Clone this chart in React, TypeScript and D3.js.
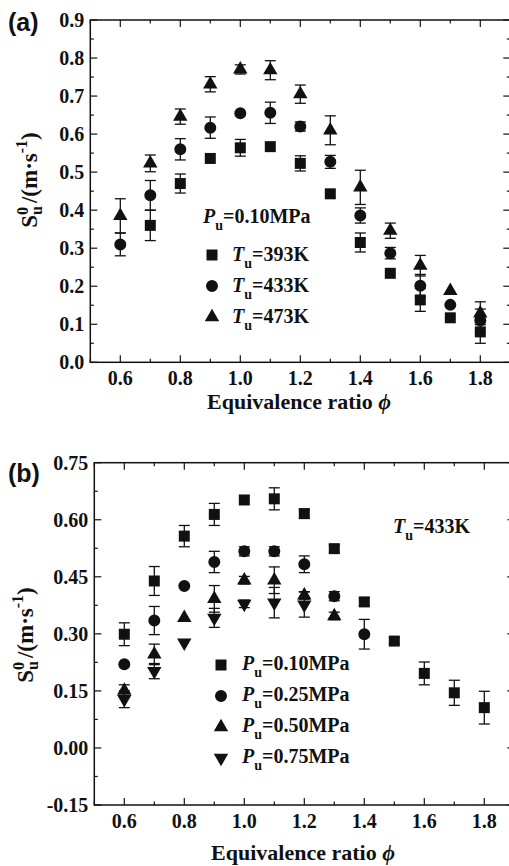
import React from "react";
import * as d3 from "d3";

// ---------- data ----------
const phi = [0.6, 0.7, 0.8, 0.9, 1.0, 1.1, 1.2, 1.3, 1.4, 1.5, 1.6, 1.7, 1.8];

// panel (a): Pu = 0.10 MPa
const aT393 = [null, 0.36, 0.47, 0.536, 0.564, 0.567, 0.523, 0.443, 0.315, 0.234, 0.164, 0.117, 0.08];
const aT393Err = [0, 0.04, 0.025, 0, 0.022, 0, 0.02, 0, 0.025, 0, 0.03, 0, 0.03];
const aT433 = [0.31, 0.439, 0.56, 0.617, 0.655, 0.656, 0.62, 0.527, 0.386, 0.287, 0.201, 0.151, 0.11];
const aT433Err = [0.03, 0.039, 0.028, 0.028, 0, 0.028, 0.012, 0.017, 0.02, 0.015, 0.03, 0, 0.03];
const aT473 = [0.385, 0.523, 0.646, 0.731, 0.77, 0.768, 0.705, 0.61, 0.46, 0.346, 0.254, 0.188, 0.129];
const aT473Err = [0.045, 0.022, 0.02, 0.02, 0.012, 0.025, 0.024, 0.038, 0.045, 0.02, 0.027, 0, 0.03];

// panel (b): Tu = 433 K
const bP010 = [0.299, 0.439, 0.557, 0.614, 0.652, 0.655, 0.616, 0.524, 0.384, 0.281, 0.196, 0.145, 0.106];
const bP010Err = [0.03, 0.038, 0.028, 0.029, 0, 0.029, 0.012, 0.01, 0.01, 0.008, 0.03, 0.033, 0.043];
const bP025 = [0.22, 0.335, 0.426, 0.489, 0.517, 0.517, 0.483, 0.399, 0.299];
const bP025Err = [0, 0.037, 0, 0.028, 0.012, 0.012, 0.022, 0.012, 0.039];
const bP050 = [0.151, 0.246, 0.342, 0.392, 0.441, 0.441, 0.401, 0.347];
const bP050Err = [0.015, 0.027, 0, 0.035, 0.01, 0.035, 0.01, 0.01];
const bP075 = [0.128, 0.202, 0.277, 0.342, 0.379, 0.382, 0.377];
const bP075Err = [0.022, 0.02, 0, 0.025, 0.01, 0.04, 0.033];

const xTickLabels = ["0.6", "0.8", "1.0", "1.2", "1.4", "1.6", "1.8"];
const yTickLabelsA = ["0.0", "0.1", "0.2", "0.3", "0.4", "0.5", "0.6", "0.7", "0.8", "0.9"];
const yTickLabelsB = ["-0.15", "0.00", "0.15", "0.30", "0.45", "0.60", "0.75"];

const legendA = ["393K", "433K", "473K"];
const legendB = ["0.10MPa", "0.25MPa", "0.50MPa", "0.75MPa"];

// ---------- styling ----------
const SERIF = "Liberation Serif, Times New Roman, DejaVu Serif, serif";
const SANS = "Liberation Sans, Arial, sans-serif";
const INK = "#111";

type Shape = "square" | "circle" | "triangle" | "down";

function symbolPath(shape: Shape): string {
  const sym =
    shape === "square"
      ? d3.symbol(d3.symbolSquare, 121)
      : shape === "circle"
      ? d3.symbol(d3.symbolCircle, 113)
      : d3.symbol(d3.symbolTriangle, 90);
  return sym() as string;
}

function Marker({ shape, x, y }: { shape: Shape; x: number; y: number }) {
  const rot = shape === "down" ? " rotate(180)" : "";
  return <path d={symbolPath(shape)} transform={`translate(${x},${y})${rot}`} fill={INK} />;
}

type Series = { values: (number | null)[]; errs: number[]; shape: Shape };

const serifStyle = { fontFamily: SERIF, fontWeight: 700 } as const;

function Panel({
  xr,
  yDomain,
  yr,
  yLabels,
  yMinorStep,
  series,
}: {
  xr: [number, number];
  yDomain: [number, number];
  yr: [number, number];
  yLabels: string[];
  yMinorStep: number;
  series: Series[];
}) {
  const x = d3.scaleLinear().domain([0.5, 1.9]).range(xr);
  const y = d3.scaleLinear().domain(yDomain).range(yr);
  const [x0, x1] = xr;
  const [yb, yt] = yr;
  const xTicksAll = d3.range(5, 20).map((v) => v / 10);
  const xLab = xTickLabels.map(Number);
  const nMinor = Math.round((yDomain[1] - yDomain[0]) / yMinorStep);
  const yTicksAll = d3.range(0, nMinor + 1).map((i) => yDomain[0] + i * yMinorStep);
  const yLab = yLabels.map(Number);
  const isMajorY = (v: number) => yLab.some((l) => Math.abs(l - v) < 1e-6);
  const isMajorX = (v: number) => xLab.some((l) => Math.abs(l - v) < 1e-6);
  const cap = 5.5;
  return (
    <g>
      {xTicksAll.map((v, i) => {
        const len = isMajorX(v) ? 7 : 3.5;
        return (
          <g key={"xt" + i} stroke={INK} strokeWidth={1.2}>
            <line x1={x(v)} x2={x(v)} y1={yb} y2={yb - len} />
            <line x1={x(v)} x2={x(v)} y1={yt} y2={yt + len} />
          </g>
        );
      })}
      {yTicksAll.map((v, i) => {
        const len = isMajorY(v) ? 7 : 3.5;
        return (
          <g key={"yt" + i} stroke={INK} strokeWidth={1.2}>
            <line x1={x0} x2={x0 + len} y1={y(v)} y2={y(v)} />
            <line x1={x1} x2={x1 - len} y1={y(v)} y2={y(v)} />
          </g>
        );
      })}
      <rect x={x0} y={yt} width={x1 - x0} height={yb - yt} fill="none" stroke={INK} strokeWidth={1.5} />
      {xTickLabels.map((t, i) => (
        <text key={"xl" + i} x={x(Number(t))} y={yb + 23} textAnchor="middle" style={serifStyle} fontSize={20} fill={INK}>
          {t}
        </text>
      ))}
      {yLabels.map((t, i) => (
        <text key={"yl" + i} x={x0 - 6} y={y(Number(t)) + 7} textAnchor="end" style={serifStyle} fontSize={20} fill={INK}>
          {t}
        </text>
      ))}
      {series.map((s, si) =>
        s.values.map((v, i) => {
          if (v == null || !s.errs[i]) return null;
          const cx = x(phi[i]);
          const ya = y(v + s.errs[i]);
          const yz = y(v - s.errs[i]);
          return (
            <g key={`e${si}-${i}`} stroke={INK} strokeWidth={1.3}>
              <line x1={cx} x2={cx} y1={ya} y2={yz} />
              <line x1={cx - cap} x2={cx + cap} y1={ya} y2={ya} />
              <line x1={cx - cap} x2={cx + cap} y1={yz} y2={yz} />
            </g>
          );
        })
      )}
      {series.map((s, si) =>
        s.values.map((v, i) =>
          v == null ? null : <Marker key={`m${si}-${i}`} shape={s.shape} x={x(phi[i])} y={y(v)} />
        )
      )}
    </g>
  );
}

function XTitle({ cx, y }: { cx: number; y: number }) {
  return (
    <text x={cx} y={y} textAnchor="middle" style={serifStyle} fontSize={22} fill={INK}>
      Equivalence ratio <tspan fontStyle="italic">ϕ</tspan>
    </text>
  );
}

function YTitle({ x, cy }: { x: number; cy: number }) {
  return (
    <text transform={`translate(${x},${cy}) rotate(-90)`} textAnchor="middle" style={serifStyle} fontSize={23} fill={INK}>
      <tspan>S</tspan>
      <tspan fontSize={16} dy={-9}>0</tspan>
      <tspan fontSize={16} dx={-8} dy={14}>u</tspan>
      <tspan dx={3} dy={-5}>/(m·s</tspan>
      <tspan fontSize={16} dy={-10}>-1</tspan>
      <tspan dy={10}>)</tspan>
    </text>
  );
}

function SubLabel({ x, y, v, sym, value }: { x: number; y: number; v: string; sym: string; value: string }) {
  return (
    <text x={x} y={y} style={serifStyle} fontSize={20} fill={INK}>
      <tspan fontStyle="italic">{sym}</tspan>
      <tspan fontSize={14} dy={7}>{v}</tspan>
      <tspan dy={-7}>{value}</tspan>
    </text>
  );
}

export default function App() {
  const seriesA: Series[] = [
    { values: aT393, errs: aT393Err, shape: "square" },
    { values: aT433, errs: aT433Err, shape: "circle" },
    { values: aT473, errs: aT473Err, shape: "triangle" },
  ];
  const seriesB: Series[] = [
    { values: bP010, errs: bP010Err, shape: "square" },
    { values: bP025, errs: bP025Err, shape: "circle" },
    { values: bP050, errs: bP050Err, shape: "triangle" },
    { values: bP075, errs: bP075Err, shape: "down" },
  ];
  const shapesA: Shape[] = ["square", "circle", "triangle"];
  const shapesB: Shape[] = ["square", "circle", "triangle", "down"];
  return (
    <svg width={509} height={866} style={{ position: "absolute", left: 0, top: 0, background: "#fff" }}>
      <rect width={509} height={866} fill="#fff" />
      <text x={8} y={31} style={{ fontFamily: SANS, fontWeight: 700 }} fontSize={25} fill={INK}>
        (a)
      </text>
      <Panel xr={[90.3, 510.3]} yDomain={[0, 0.9]} yr={[362.3, 20]} yLabels={yTickLabelsA} yMinorStep={0.05} series={seriesA} />
      <YTitle x={37} cy={180} />
      <XTitle cx={299} y={409} />
      <SubLabel x={203} y={223} sym="P" v="u" value="=0.10MPa" />
      {legendA.map((t, i) => (
        <g key={"la" + i}>
          <Marker shape={shapesA[i]} x={212} y={255 + i * 31} />
          <SubLabel x={232} y={261 + i * 31} sym="T" v="u" value={"=" + t} />
        </g>
      ))}

      <text x={8} y={482} style={{ fontFamily: SANS, fontWeight: 700 }} fontSize={25} fill={INK}>
        (b)
      </text>
      <Panel xr={[94.3, 514.3]} yDomain={[-0.15, 0.75]} yr={[805, 462.7]} yLabels={yTickLabelsB} yMinorStep={0.075} series={seriesB} />
      <YTitle x={33} cy={635} />
      <XTitle cx={303} y={860} />
      <SubLabel x={393} y={533} sym="T" v="u" value="=433K" />
      {legendB.map((t, i) => (
        <g key={"lb" + i}>
          <Marker shape={shapesB[i]} x={221} y={665 + i * 31} />
          <SubLabel x={242} y={670 + i * 31} sym="P" v="u" value={"=" + t} />
        </g>
      ))}
    </svg>
  );
}
